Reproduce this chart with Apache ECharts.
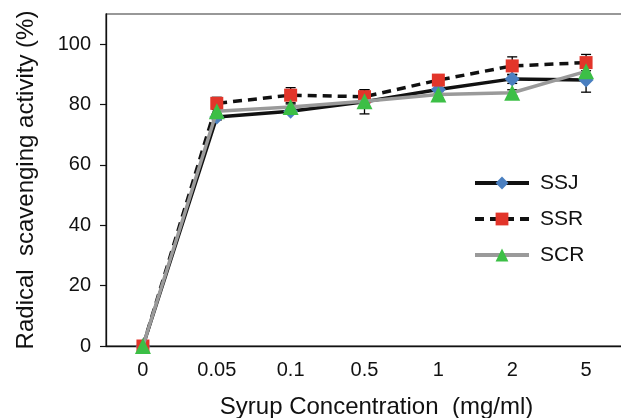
<!DOCTYPE html>
<html><head><meta charset="utf-8">
<script src="https://cdn.jsdelivr.net/npm/echarts@6/dist/echarts.min.js"></script>
<style>html,body{margin:0;padding:0;background:#fff}#c{width:621px;height:418px}</style>
</head><body><div id="c"></div>
<script>
const categories = ['0', '0.05', '0.1', '0.5', '1', '2', '5'];
const ssj = [0, 75.9, 77.8, 80.9, 85.0, 88.5, 88.1];
const ssr = [0, 80.4, 83.1, 82.6, 88.1, 92.8, 93.9];
const scr = [0, 77.8, 79.2, 81.1, 83.3, 83.9, 91.0];
const ssjErr = [0, 1, 1, 4, 1.5, 1.5, 4];
const ssrErr = [0, 2, 2.5, 2.3, 1, 3, 2.7];
const scrErr = [0, 1, 1, 1, 1, 1, 1];
const yTicks = [0, 20, 40, 60, 80, 100];

const FONT = 'Liberation Sans, Arial, sans-serif';
const chart = echarts.init(document.getElementById('c'), null, {renderer: 'canvas'});

function errData(vals, errs) {
  return vals.map((v, i) => [i, v - errs[i], v + errs[i]]);
}
function errSeries(vals, errs) {
  return {
    type: 'custom',
    z: 1,
    silent: true,
    data: errData(vals, errs),
    renderItem: function (params, api) {
      const lo = api.coord([api.value(0), api.value(1)]);
      const hi = api.coord([api.value(0), api.value(2)]);
      if (Math.abs(hi[1] - lo[1]) < 1) return null;
      const w = 5;
      const st = {stroke: '#000', lineWidth: 1.3};
      return {type: 'group', children: [
        {type: 'line', shape: {x1: lo[0], y1: lo[1], x2: hi[0], y2: hi[1]}, style: st},
        {type: 'line', shape: {x1: lo[0] - w, y1: lo[1], x2: lo[0] + w, y2: lo[1]}, style: st},
        {type: 'line', shape: {x1: hi[0] - w, y1: hi[1], x2: hi[0] + w, y2: hi[1]}, style: st}
      ]};
    }
  };
}

chart.setOption({
  animation: false,
  backgroundColor: '#fff',
  textStyle: {fontFamily: FONT},
  grid: {left: 106, right: -2, top: 14, bottom: 72, show: true, borderColor: '#333', borderWidth: 1.2,
         backgroundColor: 'transparent', containLabel: false, outerBoundsMode: 'none'},
  legend: {
    orient: 'vertical', left: 468, top: 167, itemWidth: 54, itemHeight: 16, itemGap: 14,
    lineStyle: {width: 4},
    textStyle: {fontSize: 21, lineHeight: 22, color: '#111', fontFamily: FONT, padding: [0, 0, 0, 6]},
    data: ['SSJ', 'SSR', 'SCR']
  },
  xAxis: {
    type: 'category', data: categories, boundaryGap: true,
    axisLine: {lineStyle: {color: '#111', width: 1.3}},
    axisTick: {inside: false, length: 6, lineStyle: {color: '#111', width: 1.2}},
    axisLabel: {fontSize: 20, color: '#111', margin: 14, fontFamily: FONT},
    name: 'Syrup Concentration  (mg/ml)', nameLocation: 'middle', nameGap: 49,
    nameTextStyle: {fontSize: 24, color: '#111', fontFamily: FONT, padding: [0, 0, 0, 24]}
  },
  yAxis: {
    type: 'value', min: 0, max: 110, interval: 20,
    splitLine: {show: false},
    axisLine: {show: true, lineStyle: {color: '#111', width: 1.3}},
    axisTick: {show: true, length: 6, lineStyle: {color: '#111', width: 1.2}, customValues: yTicks},
    axisLabel: {fontSize: 20, color: '#111', margin: 15, fontFamily: FONT, customValues: yTicks},
    name: 'Radical  scavenging activity (%)', nameLocation: 'middle', nameGap: 68,
    nameTextStyle: {fontSize: 24, color: '#111', fontFamily: FONT}
  },
  series: [
    errSeries(ssj, ssjErr),
    errSeries(ssr, ssrErr),
    errSeries(scr, scrErr),
    {name: 'SSJ', type: 'line', data: ssj, z: 3, symbol: 'diamond', symbolSize: 15,
     itemStyle: {color: '#4a7fc0'}, lineStyle: {color: '#111', width: 3.5}},
    {name: 'SSR', type: 'line', data: ssr, z: 4, symbol: 'rect', symbolSize: 13,
     itemStyle: {color: '#e2352a'}, lineStyle: {color: '#111', width: 3.5, type: [9, 6]}},
    {name: 'SCR', type: 'line', data: scr, z: 5, symbol: 'triangle', symbolSize: 16,
     itemStyle: {color: '#3cbf46'}, lineStyle: {color: '#9a9a9a', width: 3.5}}
  ]
});
</script></body></html>
